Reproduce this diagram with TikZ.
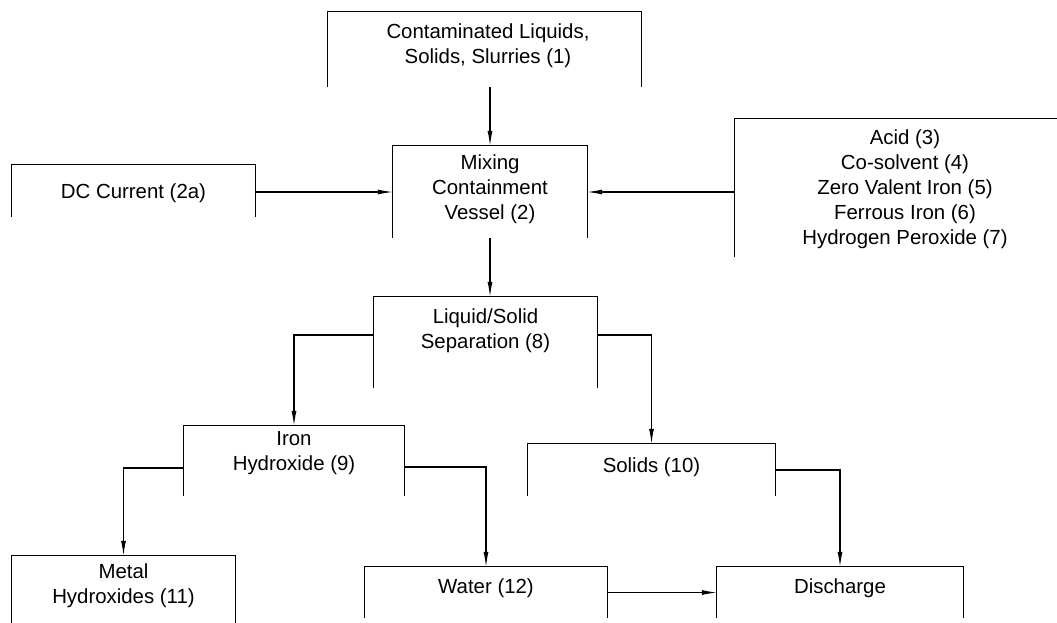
\documentclass[tikz,border=0pt]{standalone}
\usepackage{fontspec}
\setmainfont{Liberation Sans}
\usetikzlibrary{arrows.meta}
\begin{document}
\begin{tikzpicture}[x=1pt,y=-1pt,
  box/.style={draw=none,inner sep=0pt,minimum width=#1},
  txt/.style={align=center,inner sep=0pt,font=\fontsize{20.4}{25}\selectfont},
  arr/.style={line width=1.1pt,-{Latex[length=15pt,width=5pt]}},
  ln/.style={line width=1.1pt}]
\useasboundingbox (0,0) rectangle (1057,622);
% boxes (open at the bottom)
\node[box=313,minimum height=75] (b1) at (484.5,49.5) {};
\node[box=194,minimum height=92] (b2) at (490,192) {};
\node[box=243,minimum height=52] (dc) at (133.5,191) {};
\node[box=340,minimum height=138] (rb) at (905,188) {};
\node[box=223,minimum height=91] (b8) at (485.5,342.5) {};
\node[box=220,minimum height=70] (b9) at (294,461) {};
\node[box=247,minimum height=52] (b10) at (651.5,470) {};
\node[box=223,minimum height=84] (b11) at (123.5,598) {};
\node[box=242,minimum height=51] (b12) at (486,592.5) {};
\node[box=246,minimum height=51] (b13) at (840,592.5) {};
\foreach \n in {b1,b2,dc,rb,b8,b9,b10,b11,b12,b13}
  \draw[ln] (\n.south west) |- (\n.north east) -- (\n.south east);
% texts
\node[txt] (t1) at (488,45.5) {Contaminated Liquids,\\Solids, Slurries (1)};
\node[txt] (t2) at (490,189) {Mixing\\Containment\\Vessel (2)};
\node[txt] (tdc) at (133.5,193) {DC Current (2a)};
\node[txt] (trb) at (905,189) {Acid (3)\\Co-solvent (4)\\Zero Valent Iron (5)\\Ferrous Iron (6)\\Hydrogen Peroxide (7)};
\node[txt] (t8) at (485.5,330.5) {Liquid/Solid\\Separation (8)};
\node[txt] (t9) at (294,453) {Iron\\Hydroxide (9)};
\node[txt] (t10) at (651.5,467) {Solids (10)};
\node[txt] (t11) at (123.5,585.5) {Metal\\Hydroxides (11)};
\node[txt] (t12) at (486,588) {Water (12)};
\node[txt] (t13) at (840,588) {Discharge};
% connectors
\draw[arr] (b2.north |- b1.south) -- (b2.north);
\draw[arr] (dc.east |- b2.west) -- (b2.west);
\draw[arr] (rb.west |- b2.east) -- (b2.east);
\draw[arr] (b2.south) -- (b2.south |- b8.north);
\draw[arr] ([yshift=7.5pt]b8.west) -| (b9.north);
\draw[arr] ([yshift=7.5pt]b8.east) -| (b10.north);
\draw[arr] ([yshift=-7pt]b9.west) -| (b11.north);
\draw[arr] ([yshift=-6pt]b9.east) -| (b12.north);
\draw[arr] (b10.east) -| (b13.north);
\draw[arr] (b12.east) -- (b13.west);
\end{tikzpicture}
\end{document}
